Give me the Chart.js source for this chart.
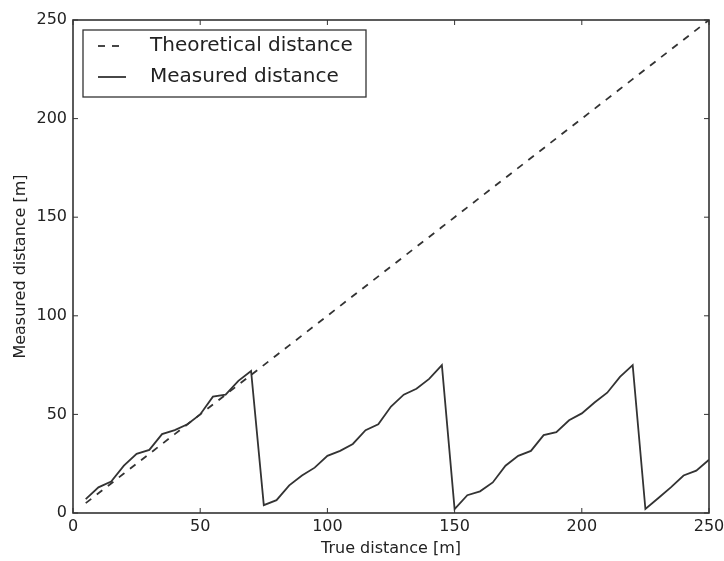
<!DOCTYPE html>
<html>
<head>
<meta charset="utf-8">
<script src="https://cdn.jsdelivr.net/npm/chart.js@4.4.0/dist/chart.umd.min.js"></script>
<style>
html,body{margin:0;padding:0;background:#fff;}
#wrap{width:724px;height:561px;position:relative;}
</style>
</head>
<body>
<div id="wrap"><canvas id="c"></canvas></div>
<script>
const trueDistance = [5,10,15,20,25,30,35,40,45,50,55,60,65,70,75,80,85,90,95,100,105,110,115,120,125,130,135,140,145,150,155,160,165,170,175,180,185,190,195,200,205,210,215,220,225,230,235,240,245,250];
const theoretical = [5,10,15,20,25,30,35,40,45,50,55,60,65,70,75,80,85,90,95,100,105,110,115,120,125,130,135,140,145,150,155,160,165,170,175,180,185,190,195,200,205,210,215,220,225,230,235,240,245,250];
const measured = [7,13,16,24,30,32,40,42,45,50,59,60,67,72,
                  4,6.5,14,19,23,29,31.5,35,42,45,54,60,63,68,75,
                  2,9,11,15.5,24,29,31.5,39.5,41,47,50.5,56,61,69,75,
                  2,7.5,13,19,21.5,27];
const xTicks = [0,50,100,150,200,250];
const yTicks = [0,50,100,150,200,250];
const seriesLabels = ['Theoretical distance','Measured distance'];

const lineColor = '#333333';
const FONT = 'DejaVu Sans';

const framePlugin = {
  id: 'frame',
  afterDraw(chart) {
    const ctx = chart.ctx, a = chart.chartArea;
    const xs = chart.scales.x, ys = chart.scales.y;
    ctx.save();
    ctx.strokeStyle = '#333';
    ctx.lineWidth = 1.6;
    ctx.strokeRect(a.left, a.top, a.right - a.left, a.bottom - a.top);
    ctx.lineWidth = 1;
    const L = 5;
    ctx.beginPath();
    xTicks.forEach(v => {
      const px = xs.getPixelForValue(v);
      ctx.moveTo(px, a.bottom); ctx.lineTo(px, a.bottom - L);
      ctx.moveTo(px, a.top); ctx.lineTo(px, a.top + L);
    });
    yTicks.forEach(v => {
      const py = ys.getPixelForValue(v);
      ctx.moveTo(a.left, py); ctx.lineTo(a.left + L, py);
      ctx.moveTo(a.right, py); ctx.lineTo(a.right - L, py);
    });
    ctx.stroke();

    // legend box
    const bx = a.left + 10, by = a.top + 10, bw = 283, bh = 67;
    ctx.fillStyle = '#fff';
    ctx.fillRect(bx, by, bw, bh);
    ctx.strokeStyle = '#333';
    ctx.lineWidth = 1.3;
    ctx.strokeRect(bx, by, bw, bh);
    ctx.font = '20px "' + FONT + '"';
    ctx.textBaseline = 'middle';
    ctx.fillStyle = '#222';
    chart.data.datasets.forEach((ds, i) => {
      const yy = by + 16 + i * 31;
      ctx.save();
      ctx.strokeStyle = ds.borderColor;
      ctx.lineWidth = ds.borderWidth;
      ctx.setLineDash(ds.borderDash || []);
      ctx.beginPath();
      ctx.moveTo(bx + 15, yy); ctx.lineTo(bx + 43, yy);
      ctx.stroke();
      ctx.restore();
      ctx.fillText(ds.label, bx + 67, yy);
    });
    ctx.restore();
  }
};

new Chart(document.getElementById('c'), {
  type: 'line',
  data: {
    labels: trueDistance,
    datasets: [
      {label: seriesLabels[0], data: trueDistance.map((x,i)=>({x:x,y:theoretical[i]})), borderColor: lineColor, borderWidth: 1.8, borderDash: [7,7], pointRadius: 0, fill: false, tension: 0},
      {label: seriesLabels[1], data: trueDistance.map((x,i)=>({x:x,y:measured[i]})), borderColor: lineColor, borderWidth: 1.8, pointRadius: 0, fill: false, tension: 0}
    ]
  },
  options: {
    responsive: true,
    maintainAspectRatio: false,
    animation: false,
    layout: {padding: {top: 20, right: 0, left: 0, bottom: 0}},
    plugins: {legend: {display: false}, tooltip: {enabled: false}},
    scales: {
      x: {
        type: 'linear', min: 0, max: 250,
        afterFit(s){ s.height = 48; s.paddingRight = 15; },
        afterBuildTicks(s){ s.ticks = xTicks.map(v => ({value: v})); },
        grid: {display: false, drawTicks: false},
        border: {display: false},
        ticks: {padding: 4, color: '#222', font: {family: FONT, size: 16}, maxRotation: 0},
        title: {display: true, text: 'True distance [m]', color: '#222', font: {family: FONT, size: 16}, padding: {top: 0, bottom: 3}}
      },
      y: {
        type: 'linear', min: 0, max: 250,
        afterFit(s){ s.width = 73; },
        afterBuildTicks(s){ s.ticks = yTicks.map(v => ({value: v})); },
        grid: {display: false, drawTicks: false},
        border: {display: false},
        ticks: {padding: 6, color: '#222', font: {family: FONT, size: 16}},
        title: {display: true, text: 'Measured distance [m]', color: '#222', font: {family: FONT, size: 16}, padding: {top: 11, bottom: 0}}
      }
    }
  },
  plugins: [framePlugin]
});
</script>
</body>
</html>
